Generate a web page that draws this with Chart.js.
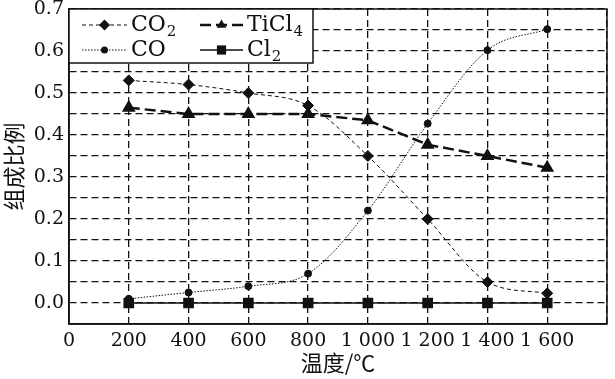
<!DOCTYPE html>
<html>
<head>
<meta charset="utf-8">
<script src="https://cdn.jsdelivr.net/npm/chart.js@4.4.1/dist/chart.umd.min.js"></script>
<style>
  body { margin: 0; background: #fff; }
  #wrap { width: 615px; height: 379px; }
</style>
</head>
<body>
<div id="wrap"><canvas id="c"></canvas></div>
<script>
// temperatures (x) and composition fractions
const temps = [200, 400, 600, 800, 1000, 1200, 1400, 1600];
const co2   = [0.53, 0.52, 0.50, 0.47, 0.35, 0.20, 0.05, 0.023];
const ticl4 = [0.465, 0.45, 0.45, 0.45, 0.435, 0.377, 0.35, 0.322];
const co    = [0.01, 0.025, 0.04, 0.07, 0.22, 0.427, 0.602, 0.652];
const cl2   = [0, 0, 0, 0, 0, 0, 0, 0];

const xTickLabels = ['0', '200', '400', '600', '800', '1 000', '1 200', '1 400', '1 600', ''];
const yTickLabels = ['', '0.0', '', '0.1', '', '0.2', '', '0.3', '', '0.4', '', '0.5', '', '0.6', '', '0.7'];

// legend: [main text, subscript]
const legendNames = [['CO', '2'], ['TiCl', '4'], ['CO', ''], ['Cl', '2']];

const serif = "'DejaVu Serif', 'Liberation Serif', serif";
const cjk = "'Noto Sans CJK SC', sans-serif";

function pts(ys) {
  return temps.map((t, i) => ({ x: t, y: ys[i] }));
}

// draw one marker the same way for the legend
function marker(ctx, style, x, y, r) {
  ctx.beginPath();
  if (style === 'rectRot') {
    ctx.moveTo(x, y - r); ctx.lineTo(x + r, y); ctx.lineTo(x, y + r); ctx.lineTo(x - r, y);
  } else if (style === 'triangle') {
    ctx.moveTo(x, y - r); ctx.lineTo(x + r * 0.87, y + r * 0.5); ctx.lineTo(x - r * 0.87, y + r * 0.5);
  } else if (style === 'rect') {
    const s = r * Math.SQRT1_2;
    ctx.rect(x - s, y - s, 2 * s, 2 * s);
  } else {
    ctx.arc(x, y, r, 0, Math.PI * 2);
  }
  ctx.closePath();
  ctx.fill();
}

const boxLegend = {
  id: 'boxLegend',
  afterDraw(chart) {
    const ctx = chart.ctx;
    const a = chart.chartArea;
    const right = 313, bottom = 63;
    ctx.save();
    ctx.fillStyle = '#fff';
    ctx.fillRect(a.left, a.top, right - a.left, bottom - a.top);
    ctx.strokeStyle = '#111';
    ctx.lineWidth = 1.5;
    ctx.strokeRect(a.left, a.top, right - a.left, bottom - a.top);

    const cols = [82, 200];
    const rows = [25, 50];
    chart.data.datasets.forEach((ds, i) => {
      const x0 = cols[i % 2], y0 = rows[Math.floor(i / 2)];
      const len = i % 2 === 0 ? 45 : 43;
      ctx.strokeStyle = '#111';
      ctx.lineWidth = ds.borderWidth;
      ctx.setLineDash(ds.borderDash || []);
      ctx.beginPath();
      ctx.moveTo(x0, y0); ctx.lineTo(x0 + len, y0);
      ctx.stroke();
      ctx.setLineDash([]);
      ctx.fillStyle = '#111';
      marker(ctx, ds.pointStyle, x0 + len / 2, y0, ds.pointRadius);

      const name = legendNames[i];
      ctx.font = '22px ' + serif;
      ctx.textBaseline = 'middle';
      ctx.textAlign = 'left';
      const tx = x0 + len + 4;
      ctx.fillText(name[0], tx, y0);
      if (name[1]) {
        const w = ctx.measureText(name[0]).width;
        ctx.font = '15px ' + serif;
        ctx.fillText(name[1], tx + w + 1, y0 + 7);
      }
    });
    ctx.restore();
  }
};

new Chart(document.getElementById('c'), {
  type: 'line',
  data: {
    datasets: [
      { label: 'CO2', data: pts(co2), borderColor: '#111', backgroundColor: '#111',
        borderWidth: 1, borderDash: [4, 3], pointStyle: 'rectRot', pointRadius: 5.5,
        cubicInterpolationMode: 'monotone' },
      { label: 'TiCl4', data: pts(ticl4), borderColor: '#111', backgroundColor: '#111',
        borderWidth: 2.5, borderDash: [11, 5], pointStyle: 'triangle', pointRadius: 5.5,
        tension: 0 },
      { label: 'CO', data: pts(co), borderColor: '#111', backgroundColor: '#111',
        borderWidth: 1, borderDash: [1.5, 1.5], pointStyle: 'circle', pointRadius: 3.5,
        cubicInterpolationMode: 'monotone' },
      { label: 'Cl2', data: pts(cl2), borderColor: '#111', backgroundColor: '#111',
        borderWidth: 1.5, pointStyle: 'rect', pointRadius: 6.5, tension: 0 }
    ]
  },
  options: {
    responsive: true,
    maintainAspectRatio: false,
    animation: false,
    layout: { padding: { top: 9, right: 3, left: 0, bottom: 0 } },
    plugins: { legend: { display: false }, tooltip: { enabled: false } },
    scales: {
      x: {
        type: 'linear', min: 0, max: 1800,
        afterFit: s => { s.height = 55; s.paddingLeft = 0; s.paddingRight = 0; },
        afterBuildTicks: s => { s.ticks = temps.concat([0, 1800]).sort((a, b) => a - b).map(v => ({ value: v })); },
        ticks: {
          stepSize: 200, autoSkip: false, maxRotation: 0, padding: 6, color: '#111',
          font: { family: serif, size: 19 },
          callback: (v, i) => xTickLabels[i]
        },
        grid: { color: '#111', lineWidth: 1.3, drawTicks: false },
        border: { color: '#111', width: 1.5, dash: [7, 4] },
        title: { display: true, text: '温度/℃', color: '#111',
          font: { family: cjk, size: 22 }, padding: { top: 0, bottom: 3 } }
      },
      y: {
        min: -0.05, max: 0.7,
        afterFit: s => { s.width = 69; s.paddingTop = 0; s.paddingBottom = 0; },
        afterBuildTicks: s => { s.ticks = yTickLabels.map((_, i) => ({ value: -0.05 + i * 0.05 })); },
        ticks: {
          autoSkip: false, padding: 5, color: '#111',
          font: { family: serif, size: 19 },
          callback: (v, i) => yTickLabels[i]
        },
        grid: { color: '#111', lineWidth: 1.3, drawTicks: false },
        border: { color: '#111', width: 1.5, dash: [7, 4] },
        title: { display: true, text: '组成比例', color: '#111',
          font: { family: cjk, size: 22 }, padding: { top: 0, bottom: 4 } }
      }
    }
  },
  plugins: [boxLegend, {
    id: 'frame',
    afterDatasetsDraw(chart) {
      // solid frame around plot area
      const a = chart.chartArea, ctx = chart.ctx;
      ctx.save();
      ctx.strokeStyle = '#111';
      ctx.lineWidth = 1.5;
      ctx.strokeRect(a.left, a.top, a.right - a.left, a.bottom - a.top);
      ctx.restore();
    }
  }]
});
</script>
</body>
</html>
